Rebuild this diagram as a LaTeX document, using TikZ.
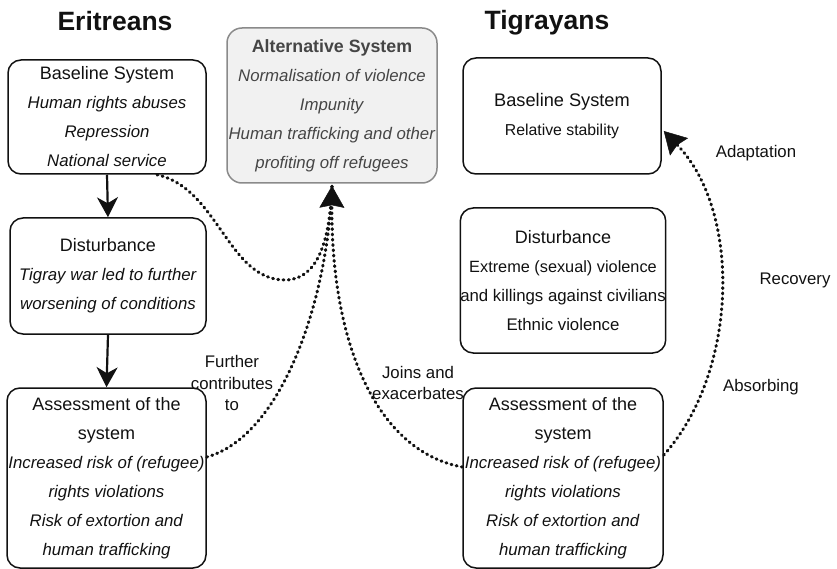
\documentclass[tikz,border=0pt]{standalone}
\usepackage{fontspec}
\setmainfont{Liberation Sans}
\usetikzlibrary{arrows.meta,calc}
\definecolor{ink}{HTML}{111111}
\definecolor{altfill}{HTML}{F1F1F1}
\definecolor{altdraw}{HTML}{8A8A8A}
\definecolor{alttext}{HTML}{454545}
\begin{document}
\begin{tikzpicture}[x=1pt,y=-1pt,
  box/.style={draw=ink, line width=1.5pt, rounded corners=13pt, align=center,
    inner sep=0pt, text=ink, font=\fontsize{16.8}{29}\selectfont},
  altbox/.style={box, draw=altdraw, fill=altfill, text=alttext, rounded corners=15pt},
  title/.style={font=\fontsize{26.5}{30}\selectfont\bfseries, text=ink},
  lbl/.style={font=\fontsize{16.8}{21.5}\selectfont, text=ink, align=center},
  flow/.style={draw=ink, line width=2.2pt, -{Stealth[length=20pt,width=21pt,inset=6pt]}},
  dotsplain/.style={draw=ink, line width=3.1pt, line cap=round, dash pattern=on 0.9pt off 4.4pt},
  dots/.style={dotsplain,
    -{Stealth[length=22pt,width=25pt,inset=2.5pt,line width=0.5pt,fill=ink]}}
]
\useasboundingbox (0,0) rectangle (837,569);

\node[title] (te) at (115,21) {Eritreans};
\node[title] (tt) at (547,23) {Tigrayans};

\node[box, minimum width=198pt, minimum height=114pt] (bl) at (107,117)
  {\fontsize{18}{29}\selectfont Baseline System\\ \textit{Human rights abuses}\\ \textit{Repression}\\ \textit{National service}};
\node[box, minimum width=196pt, minimum height=116pt] (dl) at (108,276)
  {\fontsize{18}{29}\selectfont Disturbance\\ \textit{Tigray war led to further}\\ \textit{worsening of conditions}};
\node[box, minimum width=199pt, minimum height=180pt] (al) at (106.5,478)
  {\fontsize{18}{29}\selectfont Assessment of the\\ \fontsize{18}{29}\selectfont system\\ \textit{Increased risk of (refugee)}\\ \textit{rights violations}\\ \textit{Risk of extortion and}\\ \textit{human trafficking}};

\node[altbox, minimum width=210pt, minimum height=155pt] (alt) at (332,105.5)
  {\fontsize{17.8}{29}\selectfont\bfseries Alternative System\\ \textit{Normalisation of violence}\\ \textit{Impunity}\\ \textit{Human trafficking and other}\\ \textit{profiting off refugees}};

\node[box, minimum width=198pt, minimum height=116pt] (br) at (562,116)
  {\fontsize{18.2}{29}\selectfont Baseline System\\ \fontsize{15.8}{29}\selectfont Relative stability};
\node[box, minimum width=200pt, minimum height=145pt] (dr) at (563,280.5)
  {\fontsize{18}{29}\selectfont Disturbance\\ \fontsize{16.3}{29}\selectfont Extreme (sexual) violence\\ and killings against civilians\\ Ethnic violence};
\node[box, minimum width=200pt, minimum height=180pt] (ar) at (563,478)
  {\fontsize{18}{29}\selectfont Assessment of the\\ \fontsize{18}{29}\selectfont system\\ \textit{Increased risk of (refugee)}\\ \textit{rights violations}\\ \textit{Risk of extortion and}\\ \textit{human trafficking}};

% solid flow arrows
\draw[flow] (bl.south) -- (dl.north);
\draw[flow] (dl.south) -- (al.north);

% dotted connectors into the alternative system
\coordinate (tip) at ($(alt.south)+(0,2)$);
\draw[dotsplain] ($(bl.south)+(50,0)$) .. controls (218,188) and (228,280) .. (285,280)
  .. controls (318,280) and (330,240) .. (tip);
\draw[dotsplain] (al.east |- 0,457) .. controls (282,436) and (328,300) .. (tip);
\draw[dots] (ar.west |- 0,467) .. controls (380,452) and (331,350) .. (tip);

% dotted connector back to Tigrayan baseline
\draw[dots] (ar.east |- 0,455) .. controls (738,372) and (742,212) .. ($(br.east)+(2,15)$);

% labels
\node[lbl] (l1) at (232,383) {Further\\contributes\\to};
\node[lbl] (l2) at (418,383) {Joins and\\exacerbates};
\node[lbl] (l3) at (756,153) {Adaptation};
\node[lbl] (l4) at (795,280) {Recovery};
\node[lbl] (l5) at (761,387) {Absorbing};
\end{tikzpicture}
\end{document}
